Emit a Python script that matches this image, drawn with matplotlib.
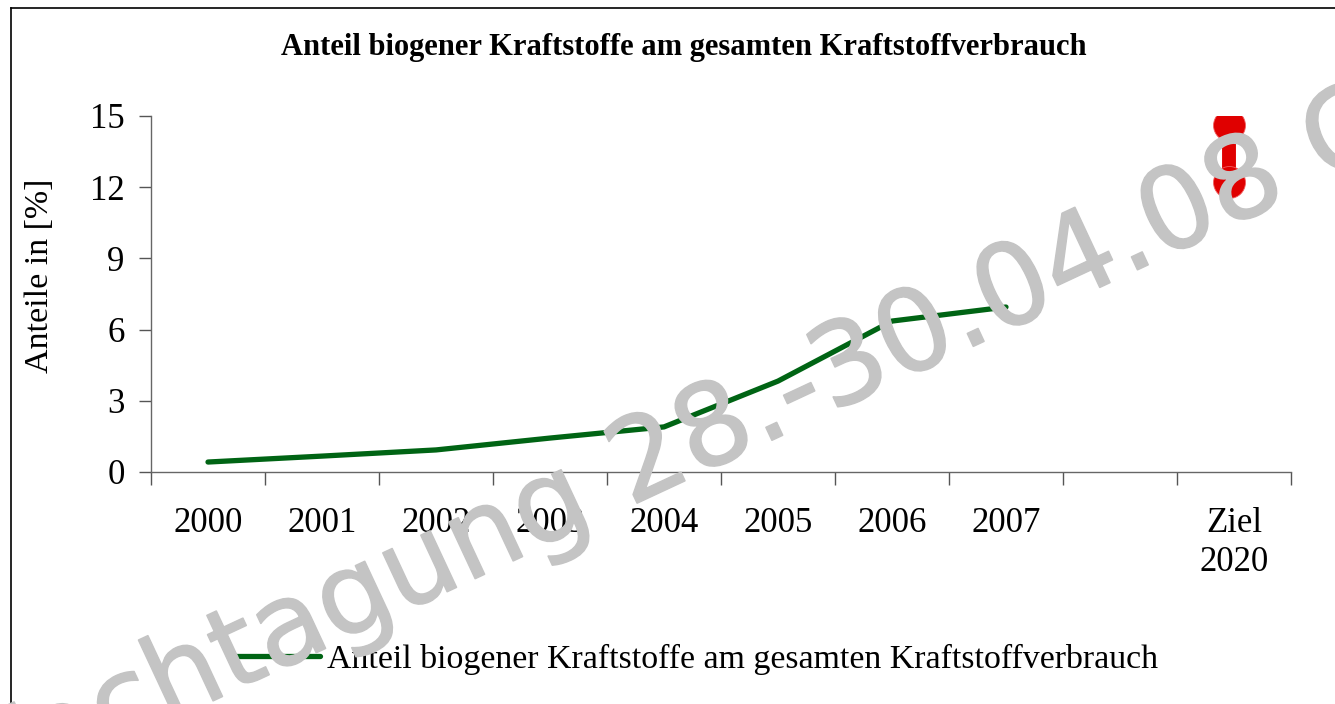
import math
import matplotlib
matplotlib.use("Agg")
import matplotlib.pyplot as plt
import matplotlib.patheffects as pe
from matplotlib.lines import Line2D

categories = ["2000", "2001", "2002", "2003", "2004", "2005", "2006", "2007", "", "Ziel\n2020"]
years = ["2000", "2001", "2002", "2003", "2004", "2005", "2006", "2007"]
anteil = [0.42, 0.67, 0.93, 1.43, 1.9, 3.83, 6.36, 6.95]
ziel_label = "Ziel\n2020"
ziel_values = [12.2, 14.6]
yticks = [0, 3, 6, 9, 12, 15]

title = "Anteil biogener Kraftstoffe am gesamten Kraftstoffverbrauch"
ylabel = "Anteile in [%]"
legend_label = "Anteil biogener Kraftstoffe am gesamten Kraftstoffverbrauch"
wm_prefix = "Fachtagung "
watermark = "Fachtagung 28.-30.04.08 C"

plt.rcParams['font.family'] = ['Liberation Serif', 'DejaVu Serif']

W, H = 1335, 704
fig = plt.figure(figsize=(W / 100, H / 100), dpi=100)
fig.patch.set_facecolor("white")

ax = fig.add_axes([151 / W, 1 - 472 / H, (1291 - 151) / W, (472 - 116) / H])
ax.set_facecolor("none")

xpos = {c: i + 0.5 for i, c in enumerate(categories)}
gx = [xpos[y] for y in years]
ax.plot(gx, anteil, color="#006414", lw=3.8, solid_capstyle="round", solid_joinstyle="round", zorder=3)

zx = [xpos[ziel_label] - 0.04] * len(ziel_values)
ax.plot(zx, ziel_values, color="#e00000", lw=10, zorder=3)
ax.plot(zx, ziel_values, linestyle="none", marker="o", markersize=23,
        markerfacecolor="#e00000", markeredgecolor="#f06060", markeredgewidth=0.6, zorder=4)

ax.set_xlim(0, len(categories))
ax.set_ylim(0, 15)
ax.set_yticks(yticks)
ax.set_yticklabels([str(v) for v in yticks], fontsize=25)
ax.set_xticks([i + 0.5 for i in range(len(categories))])
ax.set_xticklabels(categories, fontsize=25, linespacing=1.25, va="top")
ax.set_xticks(range(len(categories) + 1), minor=True)
ax.tick_params(axis="x", which="major", length=0, pad=25)
ax.tick_params(axis="x", which="minor", length=9, width=1, color="#555555", direction="out")
ax.tick_params(axis="y", length=9, width=1, color="#555555", pad=10)
for s in ["top", "right"]:
    ax.spines[s].set_visible(False)
for s in ["left", "bottom"]:
    ax.spines[s].set_color("#666666")
    ax.spines[s].set_linewidth(1)

fig.text(40 / W, 1 - 276 / H, ylabel, rotation=90, fontsize=24.5, ha="center", va="center")
fig.text(684 / W, 1 - 48 / H, title, fontsize=22, fontweight="bold", ha="center", va="center")

# legend
handle = Line2D([], [], color="#006414", lw=3.8, solid_capstyle="round")
fig.legend([handle], [legend_label], loc="center", bbox_to_anchor=(694 / W, 1 - 659 / H),
           frameon=False, fontsize=24.4, handlelength=2.65, handletextpad=0.2)

# figure frame
fig.add_artist(Line2D([11 / W, 11 / W], [0, 1 - 8 / H], color="black", lw=1.2, transform=fig.transFigure))
fig.add_artist(Line2D([11 / W, 1], [1 - 8 / H, 1 - 8 / H], color="black", lw=1.2, transform=fig.transFigure))

# watermark: baseline start of "28" placed near (648, 498) px (top-left origin), angle 25 deg
wm_size = 82
wm_angle = 25
renderer = fig.canvas.get_renderer()
tmp = fig.text(0, 0, wm_prefix.replace(" ", "_"), fontsize=wm_size, family="DejaVu Sans")
pw = tmp.get_window_extent(renderer).width
tmp.remove()
a = math.radians(wm_angle)
x0 = 648 - pw * math.cos(a)
y0 = (H - 498) - pw * math.sin(a)
fig.text(x0 / W, y0 / H, watermark, fontsize=wm_size, color="#c4c4c4", family="DejaVu Sans",
         rotation=wm_angle, rotation_mode="anchor", ha="left", va="baseline", zorder=10,
         path_effects=[pe.withStroke(linewidth=1.2, foreground="#c4c4c4")])

fig.savefig("out.png", dpi=100)
